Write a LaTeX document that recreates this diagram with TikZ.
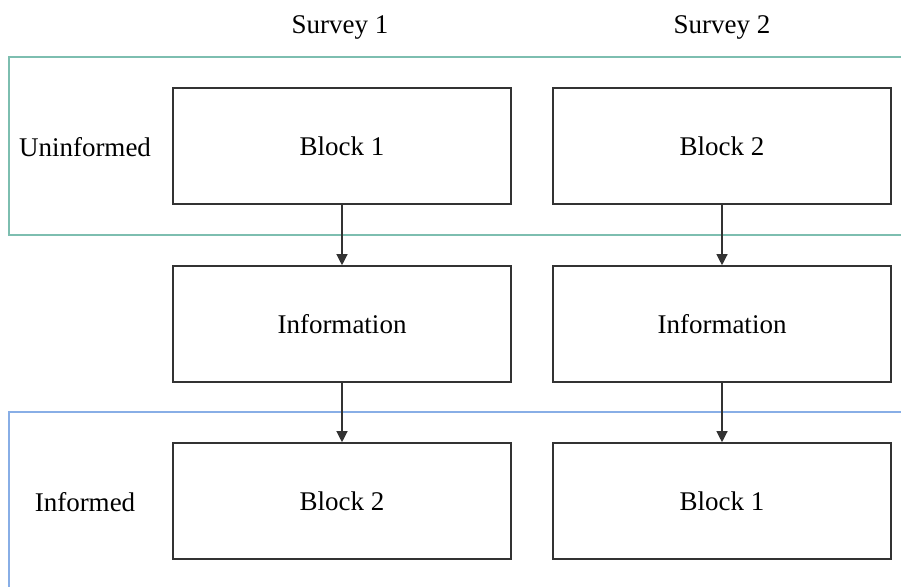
\documentclass[tikz,border=0pt]{standalone}
\usepackage{fontspec}
\setmainfont{Liberation Serif}
\usetikzlibrary{arrows.meta}

\definecolor{uninf}{HTML}{7DBEB0}
\definecolor{inf}{HTML}{88AEE6}

\tikzset{
    blockbox/.style={draw=black!80, line width=1.6pt, minimum width=338pt, minimum height=116pt, inner sep=0pt},
    flow/.style={draw=black!80, line width=1.2pt, -{Triangle[length=11pt, width=11pt]}},
    frame/.style={line width=2.6pt}
}

\begin{document}
\begin{tikzpicture}[x=1pt, y=-1pt, font=\fontsize{27}{31}\selectfont]
            \useasboundingbox (0, 0) rectangle (901, 586);
            \clip (0, 0) rectangle (901, 586);
            % groups
            \draw[frame, uninf] (910, 57) -- (9, 57) -- (9, 235) -- (910, 235);
            \draw[frame, inf] (910, 412) -- (9, 412) -- (9, 595);
            % column and row labels
            \node (s1) at (340, 27) {Survey 1};
            \node (s2) at (722, 27) {Survey 2};
            \node (unin) at (85, 147) {Uninformed};
            \node (info) at (85, 502) {Informed};
            % survey 1
            \node[blockbox] (b11) at (342, 146) {Block 1};
            \node[blockbox] (i1) at (342, 324) {Information};
            \node[blockbox] (b12) at (342, 501) {Block 2};
            % survey 2
            \node[blockbox] (b21) at (722, 146) {Block 2};
            \node[blockbox] (i2) at (722, 324) {Information};
            \node[blockbox] (b22) at (722, 501) {Block 1};
            \draw[flow] (b11) -- (i1);
            \draw[flow] (i1) -- (b12);
            \draw[flow] (b21) -- (i2);
            \draw[flow] (i2) -- (b22);
        \end{tikzpicture}
\end{document}
